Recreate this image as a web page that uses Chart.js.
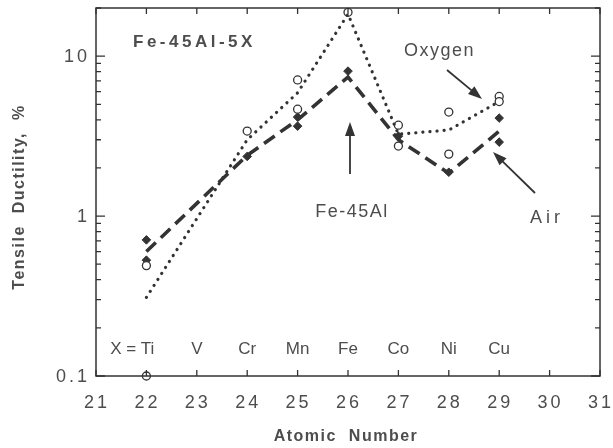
<!DOCTYPE html>
<html>
<head>
<meta charset="utf-8">
<script src="https://cdn.jsdelivr.net/npm/chart.js@4"></script>
<style>
  html, body { margin: 0; padding: 0; background: #fff; }
  #wrap { width: 613px; height: 448px; }
</style>
</head>
<body>
<div id="wrap"><canvas id="c" width="613" height="448"></canvas></div>
<script>
// line through the mean values
var lineZ = [22, 24, 25, 26, 27, 28, 29];
var oxygenLine = [0.31, 3.0, 5.9, 18.3, 3.25, 3.45, 5.2];
var airLine = [0.6, 2.4, 4.0, 7.4, 3.0, 1.85, 3.4];

// individual tests
var oxygenZ = [22, 22, 24, 25, 25, 26, 27, 27, 28, 28, 29, 29];
var oxygenPts = [0.49, 0.1, 3.4, 7.1, 4.66, 18.8, 3.7, 2.74, 4.47, 2.44, 5.6, 5.2];
var airZ = [22, 22, 24, 25, 25, 26, 27, 28, 29, 29];
var airPts = [0.71, 0.53, 2.36, 4.16, 3.65, 8.06, 3.16, 1.88, 4.1, 2.9];

var xTicks = [21, 22, 23, 24, 25, 26, 27, 28, 29, 30, 31];
var yTicks = [0.1, 1, 10];
var yTickLabels = ['0.1', '1', '10'];
var elemZ = [22, 23, 24, 25, 26, 27, 28, 29];
var elemNames = ['Ti', 'V', 'Cr', 'Mn', 'Fe', 'Co', 'Ni', 'Cu'];

var INK = '#333';
var TXT = '#4d4d4d';
var FONT = '"Liberation Sans", Arial, sans-serif';

function pts(xs, ys) {
  return xs.map(function(x, i) { return { x: x, y: ys[i] }; });
}

function arrow(ctx, x1, y1, x2, y2) {
  var a = Math.atan2(y2 - y1, x2 - x1);
  var hl = 14, hw = 5;
  ctx.beginPath();
  ctx.moveTo(x1, y1);
  ctx.lineTo(x2 - hl * 0.8 * Math.cos(a), y2 - hl * 0.8 * Math.sin(a));
  ctx.stroke();
  ctx.beginPath();
  ctx.moveTo(x2, y2);
  ctx.lineTo(x2 - hl * Math.cos(a) + hw * Math.sin(a), y2 - hl * Math.sin(a) - hw * Math.cos(a));
  ctx.lineTo(x2 - hl * Math.cos(a) - hw * Math.sin(a), y2 - hl * Math.sin(a) + hw * Math.cos(a));
  ctx.closePath();
  ctx.fill();
}

var frame = {
  id: 'frame',
  afterDraw: function(chart) {
    var ctx = chart.ctx, a = chart.chartArea;
    var xs = chart.scales.x, ys = chart.scales.y;
    ctx.save();
    ctx.strokeStyle = INK;
    ctx.fillStyle = INK;
    ctx.lineWidth = 1.5;
    ctx.strokeRect(a.left, a.top, a.right - a.left, a.bottom - a.top);

    // x ticks, inward, top and bottom
    ctx.lineWidth = 1.3;
    xTicks.forEach(function(v) {
      var px = xs.getPixelForValue(v);
      ctx.beginPath();
      ctx.moveTo(px, a.bottom); ctx.lineTo(px, a.bottom - 6);
      ctx.moveTo(px, a.top); ctx.lineTo(px, a.top + 6);
      ctx.stroke();
    });
    // y ticks, log
    for (var d = 0.1; d < 20; d *= 10) {
      for (var m = 1; m <= 9; m++) {
        var v = d * m;
        if (v > 20.01) break;
        var py = ys.getPixelForValue(v);
        var len = (m === 1) ? 9 : 5;
        ctx.beginPath();
        ctx.moveTo(a.left, py); ctx.lineTo(a.left + len, py);
        ctx.moveTo(a.right, py); ctx.lineTo(a.right - len, py);
        ctx.stroke();
      }
    }

    // tick labels
    ctx.fillStyle = TXT;
    ctx.font = '18px ' + FONT;
    ctx.letterSpacing = '3px';
    ctx.textAlign = 'center';
    ctx.textBaseline = 'middle';
    xTicks.forEach(function(v) {
      ctx.fillText(String(v), xs.getPixelForValue(v) + 1, 403);
    });
    ctx.textAlign = 'right';
    yTicks.forEach(function(v, i) {
      ctx.fillText(yTickLabels[i], 90, ys.getPixelForValue(v) + 1);
    });

    // element names
    ctx.font = '17px ' + FONT;
    ctx.letterSpacing = '0px';
    ctx.textAlign = 'center';
    elemZ.forEach(function(z, i) {
      var px = xs.getPixelForValue(z);
      if (i === 0) {
        ctx.textAlign = 'right';
        ctx.fillText('X = ' + elemNames[i], px + 8, 349);
        ctx.textAlign = 'center';
      } else {
        ctx.fillText(elemNames[i], px, 349);
      }
    });

    // axis titles
    ctx.font = 'bold 16px ' + FONT;
    ctx.letterSpacing = '1.5px';
    ctx.fillText('Atomic  Number', 346, 437);
    ctx.save();
    ctx.translate(20, 197);
    ctx.rotate(-Math.PI / 2);
    ctx.fillText('Tensile  Ductility,  %', 0, 0);
    ctx.restore();

    // annotations
    ctx.font = 'bold 17px ' + FONT;
    ctx.letterSpacing = '3.5px';
    ctx.textAlign = 'left';
    ctx.fillText('Fe-45Al-5X', 133, 42);
    ctx.font = '18px ' + FONT;
    ctx.letterSpacing = '1.5px';
    ctx.fillText('Oxygen', 404, 51);
    ctx.textAlign = 'center';
    ctx.fillText('Fe-45Al', 352, 212);
    ctx.letterSpacing = '4px';
    ctx.textAlign = 'left';
    ctx.fillText('Air', 530, 218);

    ctx.fillStyle = INK;
    ctx.lineWidth = 1.8;
    arrow(ctx, 447, 70, 482, 99);
    arrow(ctx, 350, 174, 350, 122);
    arrow(ctx, 535, 193, 493, 152);
    ctx.restore();
  }
};

new Chart(document.getElementById('c'), {
  type: 'line',
  data: {
    datasets: [
      {
        label: 'Oxygen',
        data: pts(lineZ, oxygenLine),
        borderColor: INK,
        borderWidth: 3.2,
        borderDash: [0.1, 7],
        borderCapStyle: 'round',
        pointRadius: 0,
        tension: 0
      },
      {
        label: 'Air',
        data: pts(lineZ, airLine),
        borderColor: INK,
        borderWidth: 3.6,
        borderDash: [13, 7],
        pointRadius: 0,
        tension: 0
      },
      {
        label: 'Oxygen tests',
        data: pts(oxygenZ, oxygenPts),
        showLine: false,
        pointStyle: 'circle',
        pointRadius: 4,
        pointBorderWidth: 1.3,
        pointBorderColor: INK,
        pointBackgroundColor: '#fff'
      },
      {
        label: 'Air tests',
        data: pts(airZ, airPts),
        showLine: false,
        pointStyle: 'rectRot',
        pointRadius: 4.3,
        pointBorderWidth: 1,
        pointBorderColor: INK,
        pointBackgroundColor: INK
      }
    ]
  },
  options: {
    responsive: false,
    animation: false,
    clip: false,
    layout: { padding: { left: 96, right: 13, top: 8, bottom: 72 } },
    plugins: { legend: { display: false }, tooltip: { enabled: false } },
    scales: {
      x: { type: 'linear', min: 21, max: 31, display: false },
      y: { type: 'logarithmic', min: 0.1, max: 20, display: false }
    }
  },
  plugins: [frame]
});
</script>
</body>
</html>
